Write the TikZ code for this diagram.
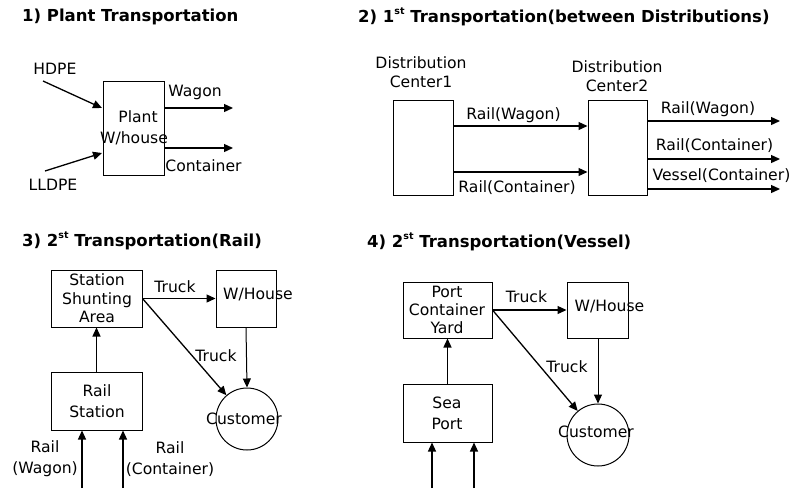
\documentclass[tikz,border=0pt]{standalone}
\usepackage{fontspec}
\setmainfont{DejaVu Sans}
\usetikzlibrary{arrows.meta}
\begin{document}
\begin{tikzpicture}[x=1pt,y=-1pt,
  lbl/.style={font=\fontsize{15.6}{19}\selectfont, inner sep=0pt, align=center},
  ttl/.style={font=\fontsize{16.5}{19}\selectfont\bfseries, inner sep=0pt, anchor=west},
  box/.style={draw, line width=1pt, inner sep=0pt},
  circ/.style={draw, line width=1pt, circle, inner sep=0pt, minimum size=62pt},
  arr/.style={line width=1.3pt, -{Triangle[length=9pt,width=8pt]}},
  sarr/.style={line width=1pt, -{Triangle[length=9pt,width=8pt]}}]
\useasboundingbox (0,0) rectangle (795,488);
\newcommand{\sst}[1]{\raisebox{0.45em}{\fontsize{9.5}{10}\selectfont #1}}
% titles
\node[ttl] (t1) at (22,17) {1)\ Plant Transportation};
\node[ttl] (t2) at (358,17) {2)\ 1\sst{st} Transportation(between Distributions)};
\node[ttl] (t3) at (22,241) {3)\ 2\sst{st} Transportation(Rail)};
\node[ttl] (t4) at (367,242) {4)\ 2\sst{st} Transportation(Vessel)};
% ---- panel 1
\node[box, minimum width=61pt, minimum height=94pt] (plant) at (133.5,128) {};
\node[lbl] (plantA) at (138,117) {Plant};
\node[lbl] (plantB) at (134,138) {W/house};
\node[lbl] (hdpe) at (55,69) {HDPE};
\node[lbl] (lldpe) at (53,185) {LLDPE};
\coordinate (h0) at (43,81);
\coordinate (h1) at (102,108);
\coordinate (l0) at (45,171);
\coordinate (l1) at (102,153);
\draw[arr] (h0) -- (h1);
\draw[arr] (l0) -- (l1);
\coordinate (w1) at (233,108);
\coordinate (c1) at (233,148);
\draw[arr] (plant.east |- w1) -- (w1);
\draw[arr] (plant.east |- c1) -- (c1);
\node[lbl] (wagon) at (195,92) {Wagon};
\node[lbl] (cont) at (203.5,166) {Container};
% ---- panel 2
\node[box, minimum width=60pt, minimum height=95pt] (dc1) at (423,148) {};
\node[box, minimum width=59pt, minimum height=95pt] (dc2) at (617.5,148) {};
\node[lbl] (dc1t) at (421,72.5) {Distribution\\Center1};
\node[lbl] (dc2t) at (617,76) {Distribution\\Center2};
\coordinate (y1) at (0,126);
\coordinate (y2) at (0,172);
\draw[arr] (dc1.east |- y1) -- (dc2.west |- y1);
\draw[arr] (dc1.east |- y2) -- (dc2.west |- y2);
\node[lbl] (rw1) at (513.5,115) {Rail(Wagon)};
\node[lbl] (rc1) at (517,188) {Rail(Container)};
\coordinate (o1) at (780,121);
\coordinate (o2) at (780,159);
\coordinate (o3) at (780,189);
\draw[arr] (dc2.east |- o1) -- (o1);
\draw[arr] (dc2.east |- o2) -- (o2);
\draw[arr] (dc2.east |- o3) -- (o3);
\node[lbl] (rw2) at (708,109) {Rail(Wagon)};
\node[lbl] (rc2) at (714.5,146) {Rail(Container)};
\node[lbl] (vc2) at (721.5,176) {Vessel(Container)};
% ---- panel 3
\node[box, minimum width=91pt, minimum height=57pt] (ssa) at (96.5,298.5) {};
\node[lbl, font=\fontsize{15.6}{18.5}\selectfont] (ssat) at (97,298.5) {Station\\Shunting\\Area};
\node[box, minimum width=60pt, minimum height=57pt] (wh3) at (246,298.5) {};
\node[lbl] (wh3t) at (258,295) {W/House};
\node[box, minimum width=91pt, minimum height=58pt] (rs) at (96.5,401) {};
\node[lbl, font=\fontsize{15.6}{21}\selectfont] (rst) at (97,401) {Rail\\Station};
\node[circ] (cu3) at (247,419) {};
\node[lbl] (cu3t) at (244,419) {Customer};
\draw[arr] (ssa.east) -- (wh3.west);
\draw[arr] (ssa.east) -- (cu3);
\draw[sarr] (wh3.south) -- (cu3.north);
\draw[arr] (rs.north) -- (ssa.south);
\node[lbl] (tr3a) at (175,287) {Truck};
\node[lbl] (tr3b) at (216,356) {Truck};
\coordinate (b1) at (82,488);
\coordinate (b2) at (123,488);
\draw[arr] (b1) -- (b1 |- rs.south);
\draw[arr] (b2) -- (b2 |- rs.south);
\node[lbl, font=\fontsize{15.6}{21}\selectfont] (rlw) at (45,459) {Rail\\(Wagon)};
\node[lbl, font=\fontsize{15.6}{21}\selectfont] (rlc) at (170,459) {Rail\\(Container)};
% ---- panel 4
\node[box, minimum width=89pt, minimum height=56pt] (pcy) at (447.5,310) {};
\node[lbl, font=\fontsize{15.6}{18}\selectfont] (pcyt) at (447,310) {Port\\Container\\Yard};
\node[box, minimum width=61pt, minimum height=56pt] (wh4) at (597.5,310) {};
\node[lbl] (wh4t) at (609.5,307) {W/House};
\node[box, minimum width=89pt, minimum height=58pt] (sp) at (447.5,413) {};
\node[lbl, font=\fontsize{15.6}{21}\selectfont] (spt) at (447,413) {Sea\\Port};
\node[circ] (cu4) at (598,435) {};
\node[lbl] (cu4t) at (596,432) {Customer};
\draw[arr] (pcy.east) -- (wh4.west);
\draw[arr] (pcy.east) -- (cu4);
\draw[sarr] (wh4.south -| cu4.north) -- (cu4.north);
\draw[arr] (sp.north) -- (pcy.south);
\node[lbl] (tr4a) at (526.5,297) {Truck};
\node[lbl] (tr4b) at (567,367) {Truck};
\coordinate (b3) at (432,488);
\coordinate (b4) at (474,488);
\draw[arr] (b3) -- (b3 |- sp.south);
\draw[arr] (b4) -- (b4 |- sp.south);
\end{tikzpicture}
\end{document}
